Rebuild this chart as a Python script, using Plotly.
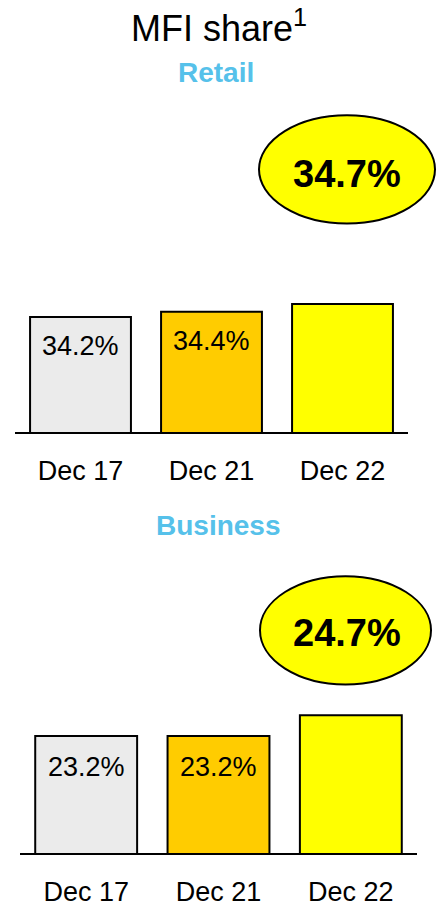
import plotly.graph_objects as go

W, H = 436, 907

categories = ["Dec 17", "Dec 21", "Dec 22"]
retail_values = [34.2, 34.4, 34.7]
business_values = [23.2, 23.2, 24.7]
retail_labels = ["34.2%", "34.4%", ""]
business_labels = ["23.2%", "23.2%", ""]
retail_highlight = "34.7%"
business_highlight = "24.7%"
bar_colors = ["#EBEBEB", "#FFCC00", "#FFFF00"]

FONT = "Liberation Sans, Arial, sans-serif"
BLUE = "#56C1EA"


def px(x):
    return x / W


def py(y):
    return 1 - y / H


fig = go.Figure()

fig.add_trace(go.Bar(x=categories, y=retail_values, marker=dict(color=bar_colors, line=dict(color="black", width=2)),
                     xaxis="x", yaxis="y", showlegend=False, hoverinfo="skip"))
fig.add_trace(go.Bar(x=categories, y=business_values, marker=dict(color=bar_colors, line=dict(color="black", width=2)),
                     xaxis="x2", yaxis="y2", showlegend=False, hoverinfo="skip"))

axis_common = dict(showgrid=False, zeroline=False, showline=True, linecolor="black", linewidth=1.5,
                   ticks="outside", ticklen=0, tickfont=dict(family=FONT, size=27, color="black"),
                   fixedrange=True)
ycommon = dict(showgrid=False, zeroline=False, showline=False, showticklabels=False, fixedrange=True)

top_base = 34.2 - 116 / 26
bot_base = 23.2 - 118 / 14

fig.update_layout(
    width=W, height=H,
    margin=dict(l=0, r=0, t=0, b=0),
    paper_bgcolor="white", plot_bgcolor="white",
    bargap=0.23,
    xaxis=dict(domain=[px(15), px(408)], range=[-0.5, 2.5], anchor="y", ticklabelstandoff=14, **axis_common),
    yaxis=dict(domain=[py(435), py(235)], range=[top_base, top_base + 200 / 26], anchor="x", **ycommon),
    xaxis2=dict(domain=[px(20), px(417)], range=[-0.5, 2.5], anchor="y2", ticklabelstandoff=14, **axis_common),
    yaxis2=dict(domain=[py(859), py(659)], range=[bot_base, bot_base + 200 / 14], anchor="x2", **ycommon),
)

ann = []
for c, v, t in zip(categories, retail_values, retail_labels):
    if t:
        ann.append(dict(x=c, y=v, xref="x", yref="y", text=t, showarrow=False, yanchor="middle", yshift=-29,
                        font=dict(family=FONT, size=27, color="black")))
for c, v, t in zip(categories, business_values, business_labels):
    if t:
        ann.append(dict(x=c, y=v, xref="x2", yref="y2", text=t, showarrow=False, yanchor="middle", yshift=-31,
                        font=dict(family=FONT, size=27, color="black")))

ann.append(dict(x=px(219), y=py(26), xref="paper", yref="paper", text="MFI share<sup>1</sup>", showarrow=False,
                xanchor="center", yanchor="middle", font=dict(family=FONT, size=36, color="black")))
ann.append(dict(x=px(216), y=py(73), xref="paper", yref="paper", text="<b>Retail</b>", showarrow=False,
                xanchor="center", yanchor="middle", font=dict(family=FONT, size=28, color=BLUE)))
ann.append(dict(x=px(218), y=py(529), xref="paper", yref="paper", text="<b>Business</b>", showarrow=False,
                xanchor="center", yanchor="middle", font=dict(family=FONT, size=28, color=BLUE)))
ann.append(dict(x=px(347), y=py(175), xref="paper", yref="paper", text="<b>" + retail_highlight + "</b>",
                showarrow=False, xanchor="center", yanchor="middle", font=dict(family=FONT, size=38, color="black")))
ann.append(dict(x=px(347), y=py(637), xref="paper", yref="paper", text="<b>" + business_highlight + "</b>",
                showarrow=False, xanchor="center", yanchor="middle", font=dict(family=FONT, size=38, color="black")))

fig.update_layout(annotations=ann)

shapes = [
    dict(type="circle", xref="paper", yref="paper", x0=px(259), x1=px(435), y0=py(225), y1=py(116),
         fillcolor="#FFFF00", line=dict(color="black", width=2), layer="below"),
    dict(type="circle", xref="paper", yref="paper", x0=px(260), x1=px(431), y0=py(689), y1=py(580),
         fillcolor="#FFFF00", line=dict(color="black", width=2), layer="below"),
]
fig.update_layout(shapes=shapes)

fig.write_html("out.html", config={"displayModeBar": False},
               post_script="document.body.style.margin='0';document.body.style.overflow='hidden';")
